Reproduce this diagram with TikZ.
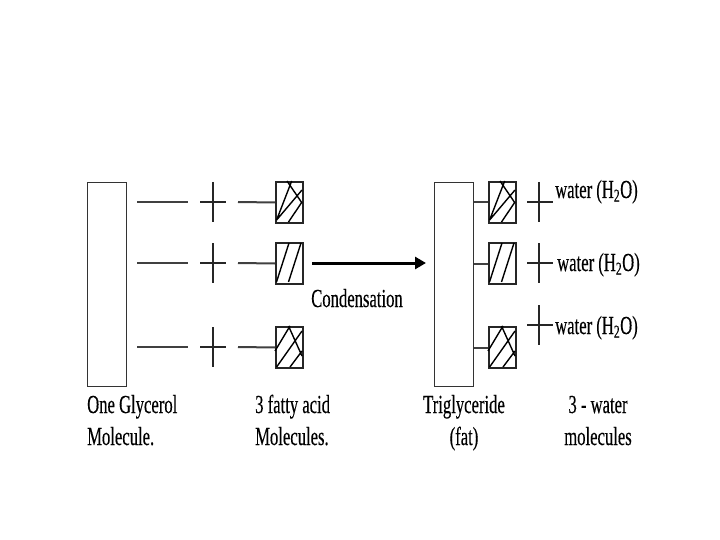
\documentclass[tikz,border=0pt]{standalone}
\usepackage{fontspec}
\setmainfont{Liberation Serif}[FakeStretch=0.64,FakeBold=0.3]
\usetikzlibrary{arrows.meta}
\tikzset{
  bond/.style={line width=2pt, draw=black!75},
  crossline/.style={line width=1.6pt, draw=black!85},
  bigrect/.style={draw=black!80, line width=1.2pt, minimum width=39pt, minimum height=204pt, inner sep=0, anchor=north west},
  acidbox/.style={draw=black!85, line width=2pt, minimum width=27pt, minimum height=41pt, inner sep=0, anchor=north west},
  hatch/.style={line width=1.4pt, draw=black},
  lbl/.style={font=\fontsize{26}{32}\selectfont, inner sep=0},
  condarrow/.style={line width=3pt, -{Triangle[length=11pt,width=12pt]}}
}
\newcommand{\patA}{\draw[hatch] (1.6,39)--(16.7,0) (1.6,39)--(27,9) (12,0)--(27,22) (13.5,41)--(27,21);}
\newcommand{\patB}{\draw[hatch] (1.5,40)--(14,1) (13.5,40)--(26,1);}
\newcommand{\patC}{\draw[hatch] (0,25)--(15,0) (1.6,41)--(27,5) (13.5,0)--(27,30) (15,41)--(27,25);}
\begin{document}
\begin{tikzpicture}[x=1pt,y=-1pt]
\useasboundingbox (0,0) rectangle (720,540);
% glycerol
\node[bigrect] (gly) at (87,182) {};
% fatty acid rows
\foreach \r/\yy/\pat in {1/202/\patA, 2/263/\patB, 3/347/\patC}{
  \coordinate (ga\r) at (137,\yy);
  \coordinate (gb\r) at (188,\yy);
  \draw[bond] (ga\r) -- (gb\r);
  \coordinate (pl\r) at (200,\yy);
  \coordinate (pr\r) at (226,\yy);
  \coordinate (pt\r) at (213,\yy-20);
  \coordinate (pb\r) at (213,\yy+20);
  \draw[crossline] (pl\r) -- (pr\r);
  \draw[crossline] (pt\r) -- (pb\r);
  \node[acidbox] (fa\r) at (275,\yy-21) {};
  \coordinate (fl\r) at (238,\yy);
  \draw[bond] (fl\r) -- (fa\r.west);
  \begin{scope}[shift={(fa\r.north west)}]\pat\end{scope}
}
% arrow
\coordinate (as) at (312,263);
\coordinate (ae) at (426,263);
\draw[condarrow] (as) -- (ae);
\node[lbl, anchor=base] (cond) at (357,307) {Condensation};
% triglyceride
\node[bigrect] (tri) at (434,182) {};
\foreach \r/\yy/\pat in {1/202/\patA, 2/263/\patB, 3/347/\patC}{
  \node[acidbox] (tb\r) at (488,\yy-21) {};
  \draw[bond] (tri.east |- tb\r.west) -- (tb\r.west);
  \begin{scope}[shift={(tb\r.north west)}]\pat\end{scope}
}
% water pluses and labels
\foreach \r/\yy/\xx/\bl in {1/202/555/198, 2/263/557/271, 3/325/555/334}{
  \coordinate (wl\r) at (527,\yy);
  \coordinate (wr\r) at (553,\yy);
  \coordinate (wt\r) at (539,\yy-20);
  \coordinate (wb\r) at (539,\yy+20);
  \draw[crossline] (wl\r) -- (wr\r);
  \draw[crossline] (wt\r) -- (wb\r);
  \node[lbl, anchor=base west] (w\r) at (\xx,\bl) {water (H\textsubscript{2}O)};
}
% bottom labels
\node[lbl, anchor=base west, align=left] (l1) at (87,445) {One Glycerol\\Molecule.};
\node[lbl, anchor=base west, align=left] (l2) at (255,445) {3 fatty acid\\Molecules.};
\node[lbl, anchor=base, align=center] (l3) at (464,445) {Triglyceride\\(fat)};
\node[lbl, anchor=base, align=center] (l4) at (598,445) {3 - water\\molecules};
\end{tikzpicture}
\end{document}
